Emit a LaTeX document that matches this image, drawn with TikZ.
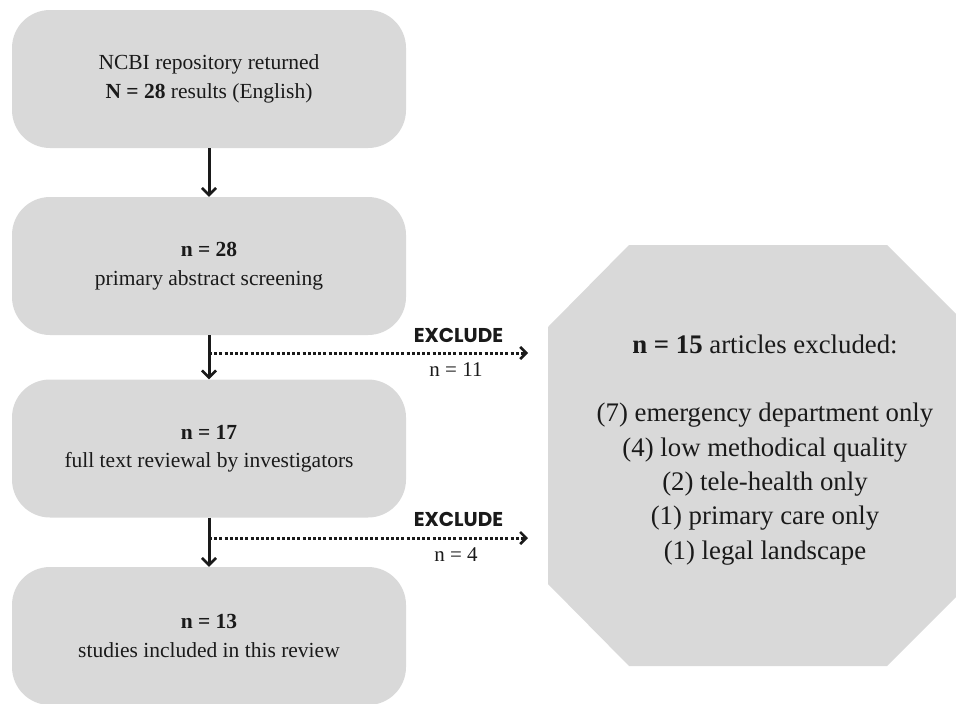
\documentclass[tikz,border=0pt]{standalone}
\usepackage{fontspec}
\setmainfont{Liberation Serif}
\newfontfamily\exfont{Poppins}
\usetikzlibrary{arrows.meta}
\definecolor{boxgray}{HTML}{D9D9D9}
\definecolor{ink}{HTML}{1A1A1A}
\begin{document}
\begin{tikzpicture}[x=1pt,y=-1pt,
  stagebox/.style={fill=boxgray, rounded corners=38pt, minimum width=394pt,
    minimum height=138pt, align=center, inner sep=0pt, text=ink,
    font=\fontsize{21.5}{28.5}\selectfont},
  flowarrow/.style={draw=ink, line width=3pt,
    -{Straight Barb[length=7pt,width=14pt,line width=2.6pt]}},
  exclarrow/.style={draw=ink, line width=3pt, dash pattern=on 3pt off 2.2pt,
    -{Straight Barb[length=6pt,width=12pt,line width=2.6pt]}},
  exlabel/.style={font=\exfont\bfseries\fontsize{20}{24}\selectfont, text=ink,
    inner sep=0pt, anchor=base},
  nlabel/.style={font=\fontsize{21}{24}\selectfont, text=ink, inner sep=0pt,
    anchor=base},
  octtext/.style={align=center, inner sep=0pt, text=ink,
    font=\fontsize{26.8}{34.3}\selectfont}
]
\useasboundingbox (0,0) rectangle (956,704);

% left column
\node[stagebox] (b1) at (209,79) {NCBI repository returned\\\textbf{N = 28} results (English)};
\node[stagebox] (b2) at (209,266) {\textbf{n = 28}\\primary abstract screening};
\node[stagebox] (b3) at (209,448.5) {\textbf{n = 17}\\full text reviewal by investigators};
\node[stagebox] (b4) at (209,636) {\textbf{n = 13}\\studies included in this review};

% octagon
\path[fill=boxgray] (548,327) -- (629,245) -- (887,245) -- (969,327)
  -- (969,584) -- (887,666) -- (629,666) -- (548,584) -- cycle;
\node[octtext] (excl) at (765,450) {\textbf{n = 15} articles excluded:\\[34pt]
  (7) emergency department only\\
  (4) low methodical quality\\
  (2) tele-health only\\
  (1) primary care only\\
  (1) legal landscape};

% main flow
\draw[flowarrow] (b1.south) -- (b2.north);
\draw[flowarrow] (b2.south) -- (b3.north);
\draw[flowarrow] (b3.south) -- (b4.north);

% exclusions
\coordinate (s1) at (209,353);
\coordinate (t1) at (528,353);
\coordinate (s2) at (209,538);
\coordinate (t2) at (528,538);
\draw[exclarrow] (s1) -- (t1);
\draw[exclarrow] (s2) -- (t2);
\node[exlabel] (x1) at (458.5,342) {EXCLUDE};
\node[nlabel] (n1) at (456,376) {n = 11};
\node[exlabel] (x2) at (458.5,526) {EXCLUDE};
\node[nlabel] (n2) at (456,561) {n = 4};
\end{tikzpicture}
\end{document}
